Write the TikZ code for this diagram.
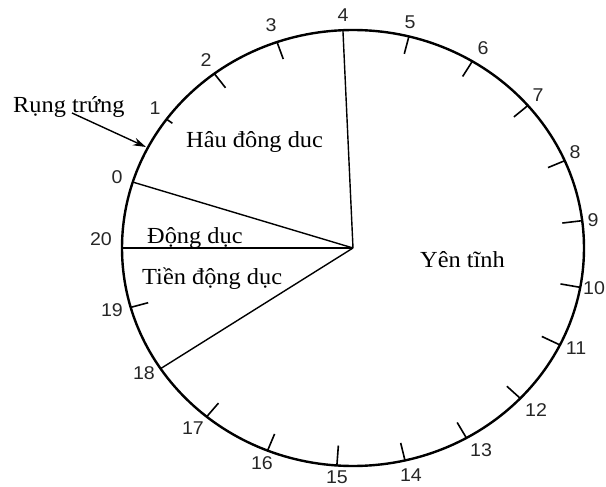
\documentclass[tikz,border=0pt]{standalone}
\usepackage{fontspec}
\setmainfont{Liberation Serif}[FakeStretch=1.06]
\newfontfamily\numfont{Liberation Sans}[FakeStretch=1.06]
\usetikzlibrary{calc,arrows.meta}
\begin{document}
\begin{tikzpicture}[x=1pt,y=1pt,
  num/.style={font=\numfont\fontsize{18.5}{18.5}\selectfont, text=black!85, inner sep=0pt},
  lbl/.style={font=\fontsize{23}{24}\selectfont, inner sep=0pt, anchor=base west},
  rim/.style={line width=2.4pt},
  radial/.style={line width=1.4pt},
  tickmark/.style={line width=1.6pt},
  pointer/.style={line width=1.4pt, -{Stealth[length=13pt,width=8pt]}}
]
\useasboundingbox (0,0) rectangle (606,-487);
\coordinate (C) at (353,-248);
% rim
\draw[rim] (C) ellipse [x radius=231, y radius=218];
% phase boundaries
\path (C) ++(92.5:231 and 218) coordinate (P4);
\path (C) ++(162.4:231 and 218) coordinate (P0);
\path (C) ++(180:231 and 218) coordinate (P20);
\path (C) ++(213.6:231 and 218) coordinate (P18);
\draw[radial] (C) -- (P4);
\draw[radial] (C) -- (P0);
\draw[radial] (C) -- (P20);
\draw[radial] (C) -- (P18);
% ticks
\foreach \k/\t/\l in {1/143.8/7, 2/126.9/18, 3/109.2/18, 5/76/18, 6/58.9/18, 7/40.8/18, 8/23.6/18, 9/7.2/20, 10/-10.4/20, 11/-26.4/20, 12/-43.6/18, 13/-60.6/18, 14/-77/18, 15/-94/20, 16/-111.7/18, 17/-129.3/18, 19/-164.2/18} {
  \path (C) ++(\t:231 and 218) coordinate (T\k);
  \draw[tickmark] (T\k) -- ($(T\k)!\l pt!(C)$);
}
% day numbers
\node[num] (n0) at (117,-177) {0};
\node[num] (n1) at (155,-108) {1};
\node[num] (n2) at (206,-60) {2};
\node[num] (n3) at (271,-25) {3};
\node[num] (n4) at (343,-15) {4};
\node[num] (n5) at (410,-22) {5};
\node[num] (n6) at (483,-48) {6};
\node[num] (n7) at (538,-95) {7};
\node[num] (n8) at (575,-152) {8};
\node[num] (n9) at (593,-220) {9};
\node[num] (n10) at (594,-288) {10};
\node[num] (n11) at (576,-348) {11};
\node[num] (n12) at (536,-410) {12};
\node[num] (n13) at (481,-450) {13};
\node[num] (n14) at (411,-475) {14};
\node[num] (n15) at (337,-477) {15};
\node[num] (n16) at (262,-463) {16};
\node[num] (n17) at (193,-428) {17};
\node[num] (n18) at (144,-373) {18};
\node[num] (n19) at (112,-310) {19};
\node[num] (n20) at (101,-239) {20};
% phase labels
\node[lbl] (rt) at (13,-113) {Rụng trứng};
\node[lbl] (hau) at (186,-148) {Hâu đông duc};
\node[lbl] (dong) at (147,-243) {Động dục};
\node[lbl] (tien) at (142,-284) {Tiền động dục};
\node[lbl] (yen) at (420,-267) {Yên tĩnh};
% ovulation arrow
\coordinate (ovs) at (72,-113);
\coordinate (ove) at (146,-147);
\draw[pointer] (ovs) -- (ove);
\end{tikzpicture}
\end{document}
